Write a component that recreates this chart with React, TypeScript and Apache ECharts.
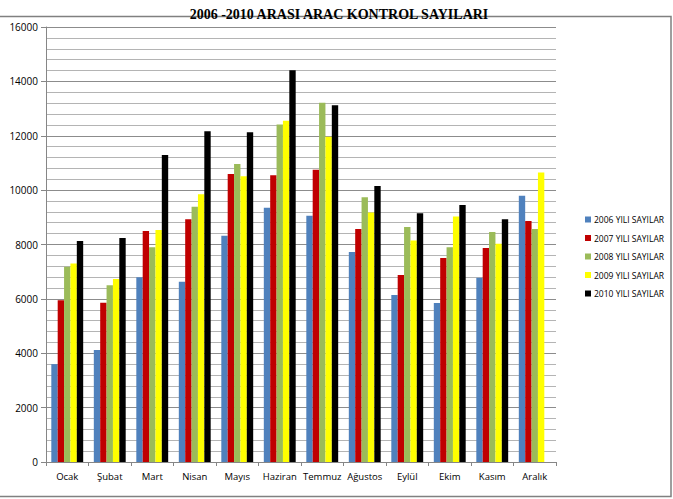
import React, { useEffect, useRef } from "react";
import * as echarts from "echarts";

const months = ["Ocak", "Şubat", "Mart", "Nisan", "Mayıs", "Haziran", "Temmuz", "Ağustos", "Eylül", "Ekim", "Kasım", "Aralık"];
const seriesNames = ["2006 YILI SAYILAR", "2007 YILI SAYILAR", "2008 YILI SAYILAR", "2009 YILI SAYILAR", "2010 YILI SAYILAR"];
const y2006 = [3600, 4120, 6800, 6630, 8320, 9350, 9060, 7720, 6140, 5850, 6780, 9790];
const y2007 = [5950, 5860, 8500, 8930, 10590, 10550, 10750, 8570, 6875, 7500, 7870, 8860];
const y2008 = [7180, 6500, 7900, 9390, 10960, 12410, 13210, 9740, 8640, 7900, 8460, 8570];
const y2009 = [7300, 6730, 8530, 9850, 10510, 12550, 11960, 9180, 8150, 9030, 8030, 10650];
const y2010: (number | string)[] = [8125, 8235, 11290, 12170, 12130, 14410, 13120, 10150, 9150, 9450, 8930, "-"];
const colors = ["#4F81BD", "#C00000", "#9BBB59", "#FFFF00", "#000000"];

export default function App() {
  const ref = useRef<HTMLDivElement>(null);
  useEffect(() => {
    if (!ref.current) return;
    const chart = echarts.init(ref.current, null, { renderer: "svg" });
    const data = [y2006, y2007, y2008, y2009, y2010];
    chart.setOption({
      animation: false,
      backgroundColor: "#ffffff",
      title: {
        text: "2006 -2010 ARASI ARAC KONTROL SAYILARI",
        left: 334,
        textAlign: "center",
        top: 2,
        textStyle: { fontFamily: "Liberation Serif", fontWeight: "bold", fontSize: 14, color: "#000" },
      },
      graphic: [
        {
          type: "rect",
          shape: { x: -2, y: 16.5, width: 673, height: 480 },
          style: { fill: "none", stroke: "#808080", lineWidth: 1.5 },
          silent: true,
          z: -1,
        },
      ],
      legend: {
        orient: "vertical",
        left: 580,
        top: 210,
        itemWidth: 6,
        itemHeight: 6,
        itemGap: 9.5,
        icon: "rect",
        data: seriesNames,
        textStyle: { fontFamily: "Open Sans", fontSize: 8.5, color: "#000", lineHeight: 9, padding: [0, 0, 0, -2] },
      },
      grid: { left: 46, right: 117, top: 27, bottom: 37, containLabel: false },
      xAxis: {
        type: "category",
        data: months,
        axisLine: { lineStyle: { color: "#868686", width: 1 } },
        axisTick: { show: true, length: 4, lineStyle: { color: "#868686" } },
        axisLabel: { interval: 0, fontFamily: "Open Sans", fontSize: 9.5, color: "#000", margin: 9 },
      },
      yAxis: {
        type: "value",
        min: 0,
        max: 16000,
        interval: 2000,
        axisLine: { show: true, lineStyle: { color: "#868686", width: 1 } },
        axisTick: { show: true, length: 5, lineStyle: { color: "#868686" } },
        axisLabel: { fontFamily: "Open Sans", fontSize: 10, color: "#000", margin: 8, formatter: (v: number) => String(v) },
        splitLine: { show: true, lineStyle: { color: "#8c8c8c", width: 1 } },
        minorTick: { show: false, splitNumber: 5 },
        minorSplitLine: { show: true, lineStyle: { color: "#b4b4b4", width: 1 } },
      },
      series: seriesNames.map((name, i) => ({
        name,
        type: "bar",
        data: data[i],
        barGap: "0%",
        barCategoryGap: "25%",
        itemStyle: { color: colors[i] },
      })),
    });
    return () => chart.dispose();
  }, []);
  return <div ref={ref} style={{ position: "fixed", left: 0, top: 0, width: 673, height: 499 }} />;
}
